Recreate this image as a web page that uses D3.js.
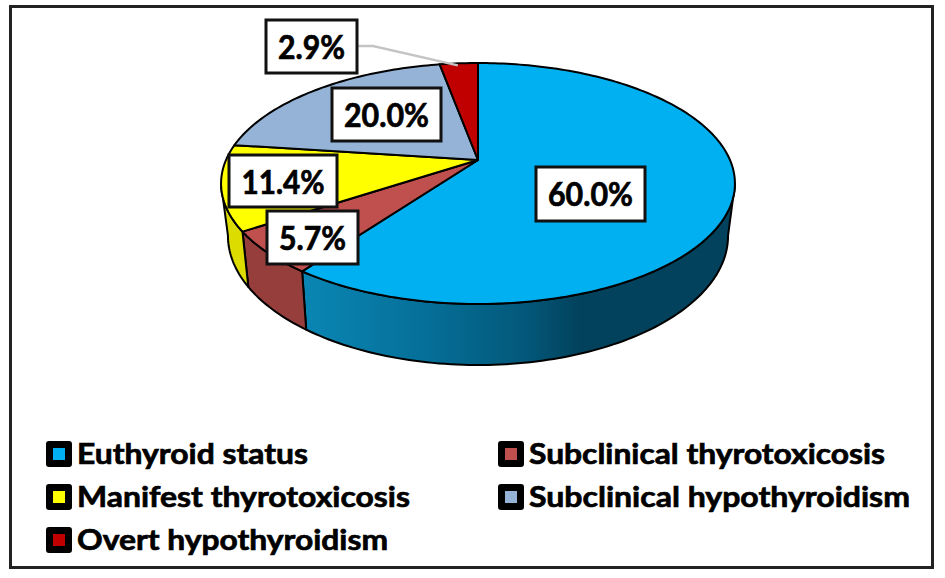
<!DOCTYPE html>
<html>
<head>
<meta charset="utf-8">
<style>html,body{margin:0;padding:0;background:#fff}svg{display:block}</style>
<script src="https://cdn.jsdelivr.net/npm/d3@7"></script>
</head>
<body>
<script>
const categories = ["Euthyroid status", "Subclinical thyrotoxicosis", "Manifest thyrotoxicosis", "Subclinical hypothyroidism", "Overt hypothyroidism"];
const values = [60.0, 5.7, 11.4, 20.0, 2.9];
const topColors = ["#00b0f0", "#c0504d", "#ffff00", "#95b3d7", "#c00000"];
const sideColors = ["url(#blueSide)", "#953e3c", "#dcdc00", "#7288a5", "#8f0000"];

// layout (separate from the data)
const W = 945, H = 578;
const labelBoxes = [[536,167,109,54],[267,211,91,53],[229,155,108,52],[332,88,109,53],[266,20,91,53]];
const labelWidths = [85,67,83,85,67];
const legendWidths = [231,356,333,381,311];
const cx = 478;
// projective mapping of the unit disc to the tilted pie's faces
const topFace = {a:252, y0:160, b:115.9, k:0.195};
const lowFace = {a:245, y0:210, b:124, k:0.2};
const project = (f, ang) => {
  const u = Math.sin(ang), v = Math.cos(ang), d = 1 + f.k * v;
  return [cx + f.a * u / d, f.y0 - f.b * v / d];
};
const arcPts = (f, a0, a1) => {
  const n = Math.max(2, Math.ceil(Math.abs(a1 - a0) / 0.02));
  return d3.range(n + 1).map(i => project(f, a0 + (a1 - a0) * i / n));
};
const line = d3.line();

const svg = d3.select("body").append("svg").attr("width", W).attr("height", H);
const grad = svg.append("defs").append("linearGradient").attr("id", "blueSide")
  .attr("gradientUnits", "userSpaceOnUse").attr("x1", 302).attr("x2", 580).attr("y1", 0).attr("y2", 0);
[[0,"#0a86b4"],[0.45,"#056f98"],[0.8,"#03587a"],[1,"#02425c"]].forEach(s =>
  grad.append("stop").attr("offset", s[0]).attr("stop-color", s[1]));

svg.append("rect").attr("x", 10.5).attr("y", 6.5).attr("width", 922).attr("height", 561)
  .attr("fill", "#fff").attr("stroke", "#222").attr("stroke-width", 3);

const pie = d3.pie().sort(null).value(d => d)(values);
const silhouetteR = 1.77, silhouetteL = 2 * Math.PI - 1.77;

// side walls, only the part of each slice that faces the viewer
const walls = svg.append("g");
pie.forEach((p, i) => {
  const a0 = Math.max(p.startAngle, silhouetteR), a1 = Math.min(p.endAngle, silhouetteL);
  if (a1 <= a0) return;
  const pts = arcPts(topFace, a0, a1).concat(arcPts(lowFace, a1, a0));
  walls.append("path").attr("d", line(pts) + "Z").attr("fill", sideColors[i])
    .attr("stroke", "#000").attr("stroke-width", 2).attr("stroke-linejoin", "round");
});

// top face
const slices = svg.append("g");
pie.forEach((p, i) => {
  const pts = [[cx, topFace.y0]].concat(arcPts(topFace, p.startAngle, p.endAngle));
  slices.append("path").attr("d", line(pts) + "Z").attr("fill", topColors[i])
    .attr("stroke", "#000").attr("stroke-width", 2).attr("stroke-linejoin", "round");
});

// leader line for the smallest slice
const mid = project(topFace, (pie[4].startAngle + pie[4].endAngle) / 2);
svg.append("path").attr("d", line([[358, 46], [373, 46], [mid[0] - 1, mid[1] + 2]]))
  .attr("fill", "none").attr("stroke", "#c4c4c4").attr("stroke-width", 2.5);

// value labels
const fmt = d3.format(".1f");
const labels = svg.append("g").selectAll("g").data(values).join("g");
labels.append("rect")
  .attr("x", (d, i) => labelBoxes[i][0]).attr("y", (d, i) => labelBoxes[i][1])
  .attr("width", (d, i) => labelBoxes[i][2]).attr("height", (d, i) => labelBoxes[i][3])
  .attr("fill", "#fff").attr("stroke", "#111").attr("stroke-width", 3);
labels.append("text")
  .attr("x", (d, i) => labelBoxes[i][0] + labelBoxes[i][2] / 2)
  .attr("y", (d, i) => labelBoxes[i][1] + 39)
  .attr("text-anchor", "middle")
  .attr("font-family", "Lato, 'Open Sans', sans-serif").attr("font-weight", 700).attr("font-size", 32)
  .attr("textLength", (d, i) => labelWidths[i]).attr("lengthAdjust", "spacingAndGlyphs")
  .attr("fill", "#000").attr("stroke", "#000").attr("stroke-width", 0.7)
  .text(d => fmt(d) + "%");

// legend
const colX = d3.scaleOrdinal().domain([0, 1]).range([46, 498]);
const rowY = d3.scalePoint().domain([0, 1, 2]).range([441, 527]);
const legend = svg.append("g").selectAll("g").data(categories).join("g")
  .attr("transform", (d, i) => `translate(${colX(i % 2)},${rowY(Math.floor(i / 2))})`);
legend.append("rect").attr("width", 26).attr("height", 26).attr("rx", 3).attr("fill", "#000");
legend.append("rect").attr("x", 7).attr("y", 7).attr("width", 12).attr("height", 12)
  .attr("fill", (d, i) => topColors[i]);
legend.append("text").attr("x", 31).attr("y", 23)
  .attr("font-family", "Lato, 'Open Sans', sans-serif").attr("font-weight", 700).attr("font-size", 29)
  .attr("textLength", (d, i) => legendWidths[i]).attr("lengthAdjust", "spacingAndGlyphs")
  .attr("fill", "#000").attr("stroke", "#000").attr("stroke-width", 0.7)
  .text(d => d);
</script>
</body>
</html>
